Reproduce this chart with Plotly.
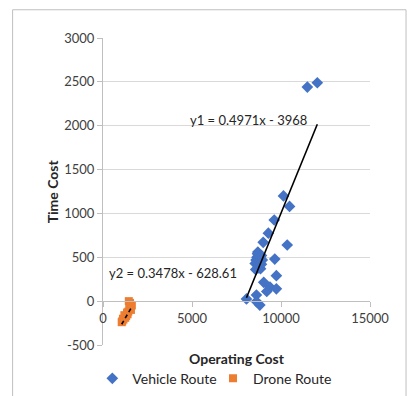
import plotly.graph_objects as go

# Vehicle route samples (operating cost, time cost)
vehicle_x = [11480, 12040, 10140, 10480, 9620, 9290, 9000, 10350, 9650, 9740,
             9030, 9380, 9740, 9200, 8620, 8060, 8620, 8810, 8700, 8780,
             8650, 8600, 8550, 8750, 8850, 8900, 8950, 8680, 8800, 8720,
             8580, 8900]
vehicle_y = [2440, 2490, 1200, 1080, 925, 775, 670, 640, 480, 290,
             215, 160, 140, 110, 70, 25, -5, -45, 560, 520,
             500, 470, 430, 380, 370, 420, 470, 540, 450, 400,
             360, 520]

# Drone route samples
drone_x = [1450, 1520, 1480, 1620, 1570, 1420, 1380, 1300, 1250, 1200,
           1150, 1080, 1050, 1120, 1350, 1500]
drone_y = [0, -20, -60, -50, -100, -120, -150, -170, -190, -160,
           -210, -230, -240, -200, -130, -80]

# Linear trend lines (slope, intercept)
fit1 = (0.4971, -3968)
fit2 = (0.3478, -628.61)

# Axis ticks and their labels
x_ticks = [0, 5000, 10000, 15000]
x_tick_labels = ["0", "5000", "10000", "15000"]
y_ticks = [-500, 0, 500, 1000, 1500, 2000, 2500, 3000]
y_tick_labels = ["-500", "0", "500", "1000", "1500", "2000", "2500", "3000"]

x_range = [0, 15000]
y_range = [-500, 3000]

BLUE = "#4472C4"
ORANGE = "#ED7D31"
FONT = "Lato"
TEXT = "#404040"
DARK = "#262626"


def trend(xs, fit):
    lo, hi = min(xs), max(xs)
    return [lo, hi], [fit[0] * lo + fit[1], fit[0] * hi + fit[1]]


fig = go.Figure()
fig.add_trace(go.Scatter(
    x=vehicle_x, y=vehicle_y, mode="markers", name="Vehicle Route",
    marker=dict(symbol="diamond", size=9, color=BLUE), legend="legend",
))
fig.add_trace(go.Scatter(
    x=drone_x, y=drone_y, mode="markers", name="Drone Route",
    marker=dict(symbol="square", size=8, color=ORANGE), legend="legend2",
))

tx1, ty1 = trend(vehicle_x, fit1)
fig.add_trace(go.Scatter(x=tx1, y=ty1, mode="lines", showlegend=False,
                         line=dict(color="black", width=1.6)))
tx2, ty2 = trend(drone_x, fit2)
fig.add_trace(go.Scatter(x=tx2, y=ty2, mode="lines", showlegend=False,
                         line=dict(color="black", width=1.6, dash="4px,3px")))

# the horizontal axis crosses the vertical one at y = 0
x_axis_pos = (0 - y_range[0]) / (y_range[1] - y_range[0])

legend_style = dict(
    orientation="h", xanchor="left", y=-0.11, yanchor="middle",
    font=dict(size=14, color=DARK), bgcolor="rgba(0,0,0,0)",
)

fig.update_layout(
    width=407, height=396,
    margin=dict(l=103, r=37, t=38, b=51, autoexpand=False),
    paper_bgcolor="white", plot_bgcolor="white",
    font=dict(family=FONT, size=13, color=TEXT),
    xaxis=dict(
        range=x_range, tickvals=x_ticks, ticktext=x_tick_labels,
        showgrid=False, zeroline=False,
        showline=True, linecolor="#BFBFBF", linewidth=1,
        ticks="outside", ticklen=5, tickcolor="#BFBFBF",
        anchor="free", position=x_axis_pos, automargin=False,
        tickfont=dict(size=13, color=TEXT),
    ),
    yaxis=dict(
        range=y_range, tickvals=y_ticks, ticktext=y_tick_labels,
        showgrid=True, gridcolor="#D9D9D9",
        zeroline=False, showline=True, linecolor="#BFBFBF", linewidth=1,
        ticks="outside", ticklen=5, tickcolor="#BFBFBF", automargin=False,
        tickfont=dict(size=13, color=TEXT),
    ),
    legend=dict(x=-0.04, **legend_style),
    legend2=dict(x=0.412, **legend_style),
    shapes=[dict(
        type="rect", xref="paper", yref="paper",
        x0=-0.3386, x1=1.135, y0=-0.25, y1=1.092,
        line=dict(color="#BFBFBF", width=1), fillcolor="rgba(0,0,0,0)",
    )],
    annotations=[
        dict(text="<b>Time Cost</b>", xref="paper", yref="paper",
             x=-0.1886, y=0.4993, xanchor="center", yanchor="middle",
             textangle=-90, showarrow=False,
             font=dict(size=14, color=DARK)),
        dict(text="<b>Operating Cost</b>", xref="paper", yref="paper",
             x=0.501, y=-0.0446, xanchor="center", yanchor="middle",
             showarrow=False, font=dict(size=14, color=DARK)),
        dict(text="y1 = 0.4971x - 3968", xref="x", yref="y",
             x=11560, y=2063, xanchor="right", yanchor="middle",
             showarrow=False, font=dict(size=13, color=DARK)),
        dict(text="y2 = 0.3478x - 628.61", xref="x", yref="y",
             x=208, y=319, xanchor="left", yanchor="middle",
             showarrow=False, font=dict(size=13, color=DARK)),
    ],
)

fig.write_html("out.html")
